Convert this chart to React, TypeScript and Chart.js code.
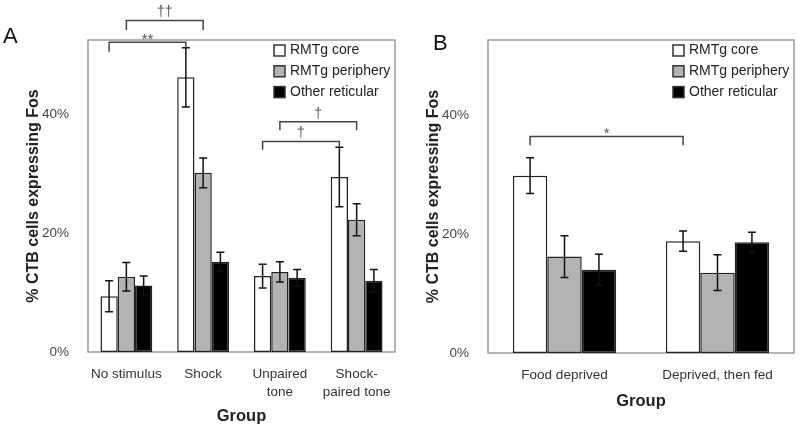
import React, { useEffect, useRef } from "react";
import { Chart, registerables } from "chart.js";

Chart.register(...registerables);

// ---------- data ----------
const seriesLabels = ["RMTg core", "RMTg periphery", "Other reticular"];
const seriesFill = ["#ffffff", "#b3b3b3", "#000000"];

const categoriesA: (string | string[])[] = ["No stimulus", "Shock", ["Unpaired", "tone"], ["Shock-", "paired tone"]];
const coreA = [9.4, 46.3, 12.8, 29.5];
const coreErrA = [2.6, 5.0, 2.0, 5.0];
const periA = [12.7, 30.2, 13.5, 22.3];
const periErrA = [2.4, 2.5, 1.7, 2.7];
const otherA = [11.2, 15.2, 12.5, 12.0];
const otherErrA = [1.6, 1.6, 1.4, 1.9];

const categoriesB = ["Food deprived", "Deprived, then fed"];
const coreB = [29.8, 18.8];
const coreErrB = [3.0, 1.7];
const periB = [16.2, 13.5];
const periErrB = [3.5, 3.0];
const otherB = [14.0, 18.6];
const otherErrB = [2.6, 1.7];

const yTickValues = [0, 20, 40];
const yMax = 52.6;

// significance brackets: [dataset, category] ends, level and end drops in %
const bracketsA = [
  { from: [0, 0], to: [0, 1], level: 52.2, dropL: 50.6, dropR: 51.3, text: "**" },
  { from: [1, 0], to: [1, 1], level: 55.9, dropL: 54.3, dropR: 54.3, text: "††" },
  { from: [1, 2], to: [1, 3], level: 38.8, dropL: 37.4, dropR: 37.4, text: "†" },
  { from: [0, 2], to: [0, 3], level: 35.5, dropL: 34.1, dropR: 34.5, text: "†" },
];
const bracketsB = [
  { from: [0, 0], to: [0, 1], level: 36.4, dropL: 34.9, dropR: 34.9, text: "*" },
];

const FONT = "'Liberation Sans', Arial, sans-serif";

// ---------- plugin ----------
const decorPlugin = {
  id: "panelDecor",
  beforeDatasetsDraw(chart: any) {
    const { ctx, chartArea: a } = chart;
    ctx.save();
    ctx.strokeStyle = "#9a9a9a";
    ctx.lineWidth = 1.5;
    ctx.strokeRect(a.left, a.top, a.right - a.left, a.bottom - a.top);
    ctx.restore();
  },
  afterDatasetsDraw(chart: any) {
    const { ctx } = chart;
    const y = chart.scales.y;
    ctx.save();
    ctx.strokeStyle = "#111";
    ctx.lineWidth = 1.5;
    chart.data.datasets.forEach((ds: any, i: number) => {
      const meta = chart.getDatasetMeta(i);
      meta.data.forEach((el: any, j: number) => {
        const v = ds.data[j];
        const e = ds.errors[j];
        const yt = y.getPixelForValue(v + e);
        const yb = y.getPixelForValue(v - e);
        ctx.beginPath();
        ctx.moveTo(el.x, yt);
        ctx.lineTo(el.x, yb);
        ctx.moveTo(el.x - 4, yt);
        ctx.lineTo(el.x + 4, yt);
        ctx.moveTo(el.x - 4, yb);
        ctx.lineTo(el.x + 4, yb);
        ctx.stroke();
      });
    });
    ctx.restore();
  },
  afterDraw(chart: any, _args: any, opts: any) {
    const { ctx, chartArea: a } = chart;
    const y = chart.scales.y;
    ctx.save();
    // legend
    ctx.font = `14px ${FONT}`;
    ctx.textBaseline = "middle";
    ctx.textAlign = "left";
    chart.data.datasets.forEach((ds: any, i: number) => {
      const bx = a.right - 121;
      const cy = a.top + 10.5 + i * 20.8;
      ctx.fillStyle = ds.backgroundColor;
      ctx.fillRect(bx, cy - 5.5, 11, 11);
      ctx.strokeStyle = "#333";
      ctx.lineWidth = 1.5;
      ctx.strokeRect(bx, cy - 5.5, 11, 11);
      ctx.fillStyle = "#222";
      ctx.fillText(ds.label, bx + 16, cy);
    });
    // brackets
    ctx.strokeStyle = "#444";
    ctx.lineWidth = 1.5;
    (opts.brackets || []).forEach((b: any) => {
      const x1 = chart.getDatasetMeta(b.from[0]).data[b.from[1]].x;
      const x2 = chart.getDatasetMeta(b.to[0]).data[b.to[1]].x;
      const yl = y.getPixelForValue(b.level);
      ctx.beginPath();
      ctx.moveTo(x1, y.getPixelForValue(b.dropL));
      ctx.lineTo(x1, yl);
      ctx.lineTo(x2, yl);
      ctx.lineTo(x2, y.getPixelForValue(b.dropR));
      ctx.stroke();
      ctx.fillStyle = "#555";
      ctx.textAlign = "center";
      ctx.textBaseline = "alphabetic";
      const isStar = b.text.indexOf("*") >= 0;
      ctx.font = isStar ? `15px ${FONT}` : `14px ${FONT}`;
      ctx.fillText(b.text, (x1 + x2) / 2, isStar ? yl + 2 : yl - 4);
    });
    // panel letter
    ctx.fillStyle = "#111";
    ctx.textAlign = "left";
    ctx.textBaseline = "alphabetic";
    ctx.font = `22px ${FONT}`;
    ctx.fillText(opts.letter, opts.letterX, opts.letterY);
    ctx.restore();
  },
};

function makeConfig(
  categories: any[],
  core: number[], coreErr: number[],
  peri: number[], periErr: number[],
  other: number[], otherErr: number[],
  opts: any
): any {
  const values = [core, peri, other];
  const errs = [coreErr, periErr, otherErr];
  return {
    type: "bar",
    data: {
      labels: categories,
      datasets: seriesLabels.map((label, i) => ({
        label,
        data: values[i],
        errors: errs[i],
        backgroundColor: seriesFill[i],
        borderColor: "#222",
        borderWidth: 1.5,
        borderSkipped: false,
        categoryPercentage: 0.675,
        barPercentage: 1,
      })),
    },
    plugins: [decorPlugin],
    options: {
      animation: false,
      responsive: false,
      events: [],
      layout: { padding: { top: 40, right: opts.padRight, left: 0, bottom: 0 } },
      plugins: {
        legend: { display: false },
        tooltip: { enabled: false },
        panelDecor: { letter: opts.letter, letterX: opts.letterX, letterY: opts.letterY, brackets: opts.brackets },
      },
      scales: {
        x: {
          grid: { display: false },
          border: { display: false },
          afterFit: (s: any) => { s.height = opts.xHeight; },
          ticks: {
            color: "#333",
            font: { family: FONT, size: 13.5, lineHeight: 1.3 },
            padding: 6,
            maxRotation: 0,
            autoSkip: false,
          },
          title: {
            display: true,
            text: "Group",
            color: "#222",
            font: { family: FONT, size: 16.5, weight: "bold" },
            padding: { top: 0, bottom: opts.titlePadBottom },
          },
        },
        y: {
          min: 0,
          max: yMax,
          grid: { display: false },
          border: { display: false },
          afterFit: (s: any) => { s.width = 88; },
          afterBuildTicks: (s: any) => { s.ticks = yTickValues.map((v) => ({ value: v })); },
          ticks: {
            color: "#444",
            font: { family: FONT, size: 13.5 },
            padding: 11,
            callback: (v: any) => `${v}%`,
          },
          title: {
            display: true,
            text: "% CTB cells expressing Fos",
            color: "#222",
            font: { family: FONT, size: 16, weight: "bold" },
            padding: { top: 23.5, bottom: 0 },
          },
        },
      },
    },
  };
}

function Panel({ left, config }: { left: number; config: () => any }) {
  const ref = useRef<HTMLCanvasElement | null>(null);
  useEffect(() => {
    const chart = new Chart(ref.current as HTMLCanvasElement, config());
    return () => chart.destroy();
  }, []);
  return (
    <div style={{ position: "absolute", left, top: 0, width: 400, height: 429 }}>
      <canvas ref={ref} width={400} height={429} style={{ display: "block" }} />
    </div>
  );
}

export default function App() {
  return (
    <div style={{ position: "fixed", left: 0, top: 0, width: 800, height: 429, background: "#fff", overflow: "hidden" }}>
      <Panel
        left={0}
        config={() =>
          makeConfig(categoriesA, coreA, coreErrA, periA, periErrA, otherA, otherErrA, {
            padRight: 5, xHeight: 77, titlePadBottom: 3, letter: "A", letterX: 3, letterY: 43, brackets: bracketsA,
          })
        }
      />
      <Panel
        left={400}
        config={() =>
          makeConfig(categoriesB, coreB, coreErrB, periB, periErrB, otherB, otherErrB, {
            padRight: 6, xHeight: 76, titlePadBottom: 18, letter: "B", letterX: 33, letterY: 50, brackets: bracketsB,
          })
        }
      />
    </div>
  );
}
